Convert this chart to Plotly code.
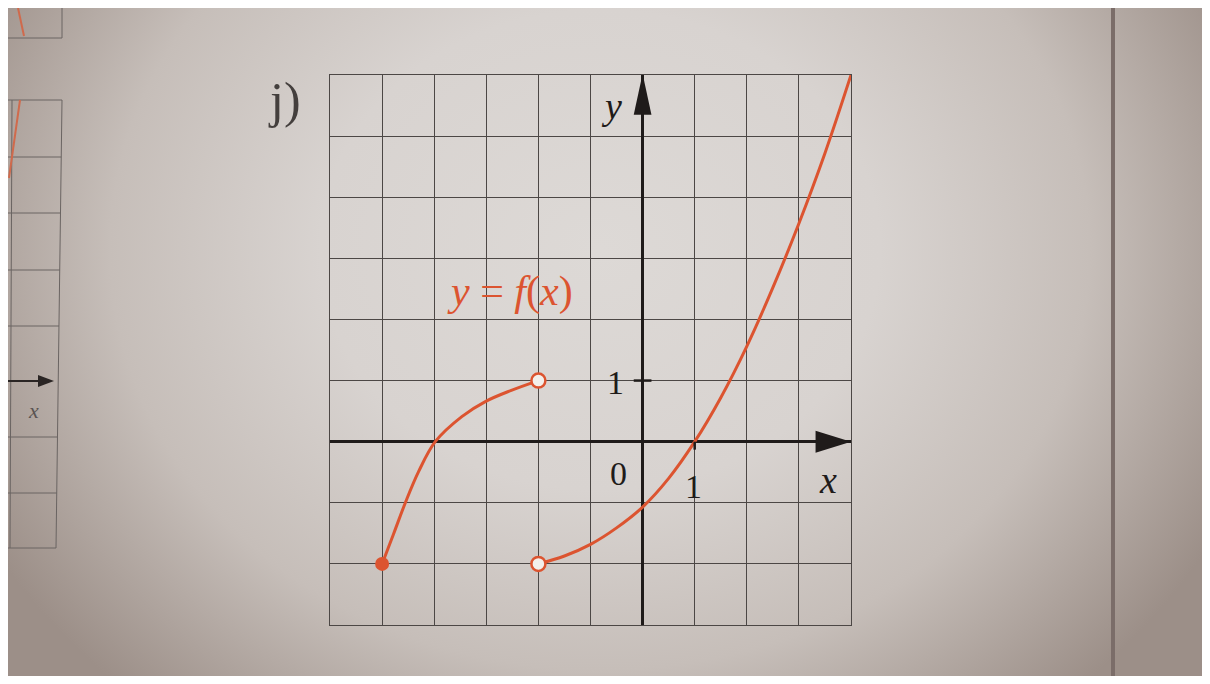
import plotly.graph_objects as go

# values (graph units)
left_x = [-5, -4.78, -4.55, -4.30, -3.98, -3.47, -3.01, -2.52, -2.0]
left_y = [-2, -1.51, -0.99, -0.49, 0.0, 0.41, 0.66, 0.84, 1.0]
right_x = [-2, -1.5, -1.0, -0.5, 0.0, 0.5, 1.0, 1.5, 2.0, 2.5, 3.0, 3.5, 4.0]
right_y = [-2, -1.87, -1.68, -1.41, -1.07, -0.60, 0.0, 0.72, 1.56, 2.52, 3.57, 4.72, 6.0]
closed_x = [-5]
closed_y = [-2]
open_x = [-2, -2]
open_y = [1, -2]
x_range = [-6, 4]
y_range = [-3, 6]

ORANGE = "#dc5430"
INK = "#1f1b1a"
GRID = "#4c4745"
SERIF = "Liberation Serif, Times New Roman, serif"

W = 1202  # figure width in px, page is offset 8px by the body margin

fig = go.Figure()

# page background (photo vignette), drawn on a pixel-unit helper axis
fig.add_scatter(x=[-100, 1300, 1300, -100, -100], y=[-350, -350, 850, 850, -350],
                mode="lines", line_width=0, fill="toself", hoverinfo="skip", showlegend=False,
                fillgradient=dict(type="radial",
                                  colorscale=[[0, "#ddd9d6"], [0.4, "#d8d3d0"],
                                              [0.7, "#c6beb9"], [1, "#9c8f88"]]))

# curves
fig.add_scatter(x=left_x, y=left_y, mode="lines", xaxis="x2", yaxis="y2",
                line=dict(color=ORANGE, width=3, shape="spline", smoothing=1), showlegend=False)
fig.add_scatter(x=right_x, y=right_y, mode="lines", xaxis="x2", yaxis="y2",
                line=dict(color=ORANGE, width=3, shape="spline", smoothing=1), showlegend=False)
fig.add_scatter(x=closed_x, y=closed_y, mode="markers", xaxis="x2", yaxis="y2",
                marker=dict(color=ORANGE, size=14), showlegend=False, cliponaxis=False)
fig.add_scatter(x=open_x, y=open_y, mode="markers", xaxis="x2", yaxis="y2",
                marker=dict(color="#f3efeb", size=14, line=dict(color=ORANGE, width=2.5)),
                showlegend=False, cliponaxis=False)

shapes = [
    # axis arrow heads and ticks
    dict(type="path", xref="x2", yref="y2", path="M 4,0 L 3.32,0.18 L 3.32,-0.18 Z",
         fillcolor=INK, line_width=0),
    dict(type="path", xref="x2", yref="y2", path="M 0,6.02 L -0.17,5.35 L 0.17,5.35 Z",
         fillcolor=INK, line_width=0),
    dict(type="line", xref="x2", yref="y2", x0=-0.17, x1=0.17, y0=1, y1=1,
         line=dict(color=INK, width=2.5)),
    dict(type="line", xref="x2", yref="y2", x0=1, x1=1, y0=0, y1=-0.13,
         line=dict(color=INK, width=2.5)),
    # book spine on the right
    dict(type="line", xref="x", yref="y", x0=1113, x1=1113, y0=8, y1=676,
         line=dict(color="#7b6d69", width=4)),
]

# neighbouring exercise at the left edge (pixel units)
for yy in [100, 157, 213, 270, 326, 437, 493, 548]:
    shapes.append(dict(type="line", xref="x", yref="y", x0=8, x1=62 - (yy - 100) / 75,
                       y0=yy, y1=yy, line=dict(color="#6a6462", width=1)))
shapes.append(dict(type="line", xref="x", yref="y", x0=62, x1=56, y0=100, y1=548,
                   line=dict(color="#6a6462", width=1)))
shapes.append(dict(type="line", xref="x", yref="y", x0=12, x1=10, y0=100, y1=548,
                   line=dict(color="#6a6462", width=1)))
shapes.append(dict(type="line", xref="x", yref="y", x0=8, x1=62, y0=38, y1=38,
                   line=dict(color="#6a6462", width=1)))
shapes.append(dict(type="line", xref="x", yref="y", x0=62, x1=62, y0=8, y1=38,
                   line=dict(color="#6a6462", width=1)))
shapes.append(dict(type="line", xref="x", yref="y", x0=8, x1=40, y0=381, y1=381,
                   line=dict(color="#2a2524", width=2)))
shapes.append(dict(type="path", xref="x", yref="y", path="M 54,381 L 38,375 L 38,387 Z",
                   fillcolor="#2a2524", line_width=0))
shapes.append(dict(type="line", xref="x", yref="y", x0=9, x1=20, y0=178, y1=100,
                   line=dict(color="#d06a4c", width=2)))
shapes.append(dict(type="line", xref="x", yref="y", x0=18, x1=24, y0=8, y1=36,
                   line=dict(color="#d06a4c", width=2)))

annotations = [
    dict(text="<i>y</i>", x=-0.59, y=5.5, xref="x2", yref="y2", showarrow=False,
         font=dict(family=SERIF, size=38, color=INK)),
    dict(text="<i>x</i>", x=3.56, y=-0.62, xref="x2", yref="y2", showarrow=False,
         font=dict(family=SERIF, size=38, color=INK)),
    dict(text="0", x=-0.47, y=-0.52, xref="x2", yref="y2", showarrow=False,
         font=dict(family=SERIF, size=34, color=INK)),
    dict(text="1", x=0.97, y=-0.74, xref="x2", yref="y2", showarrow=False,
         font=dict(family=SERIF, size=34, color=INK)),
    dict(text="1", x=-0.52, y=0.97, xref="x2", yref="y2", showarrow=False,
         font=dict(family=SERIF, size=34, color=INK)),
    dict(text="<i>y</i> = <i>f</i>(<i>x</i>)", x=-2.55, y=2.45, xref="x2", yref="y2",
         showarrow=False, font=dict(family=SERIF, size=42, color=ORANGE)),
    dict(text="j)", x=284, y=100, xref="x", yref="y", showarrow=False,
         font=dict(family=SERIF, size=50, color="#443f3d")),
    dict(text="<i>x</i>", x=33, y=410, xref="x", yref="y", showarrow=False,
         font=dict(family=SERIF, size=22, color="#5a5452")),
]

fig.update_layout(
    width=W, height=668,
    margin=dict(l=0, r=0, t=0, b=0),
    paper_bgcolor="#d2ccc8", plot_bgcolor="rgba(0,0,0,0)",
    showlegend=False,
    xaxis=dict(range=[8, 8 + W], domain=[0, 1], visible=False, fixedrange=True),
    yaxis=dict(range=[676, 8], domain=[0, 1], visible=False, fixedrange=True),
    xaxis2=dict(range=x_range, domain=[(330 - 8) / W, (851 - 8) / W], anchor="y2", dtick=1, tick0=0,
                showgrid=True, gridcolor=GRID, gridwidth=1.3, showticklabels=False, ticks="",
                zeroline=True, zerolinecolor=INK, zerolinewidth=2.5,
                showline=True, linecolor=GRID, linewidth=1.3, mirror=True),
    yaxis2=dict(range=y_range, domain=[0.0763, 0.8997], anchor="x2", dtick=1, tick0=0,
                showgrid=True, gridcolor=GRID, gridwidth=1.3, showticklabels=False, ticks="",
                zeroline=True, zerolinecolor=INK, zerolinewidth=2.5,
                showline=True, linecolor=GRID, linewidth=1.3, mirror=True),
    shapes=shapes,
    annotations=annotations,
)

fig.write_html("out.html")
